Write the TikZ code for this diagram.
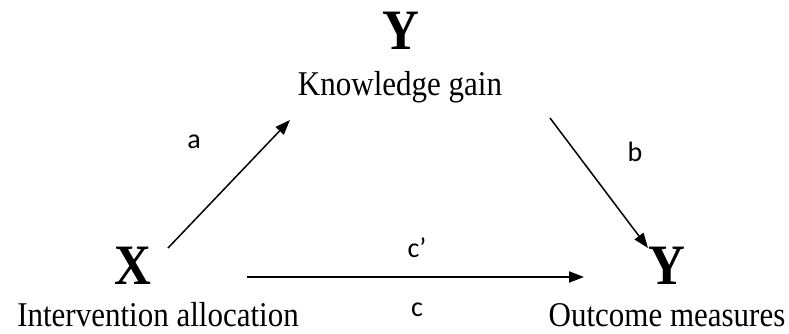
\documentclass[tikz,border=0pt]{standalone}
\usepackage{fontspec}
\usepackage{graphicx}
\setmainfont{Liberation Serif}
\newfontfamily\lblfont{Carlito}
\usetikzlibrary{arrows.meta}
\newcommand{\talltext}[1]{\scalebox{1}[1.12]{#1}}
\begin{document}
\begin{tikzpicture}[x=1pt,y=-1pt,
  var/.style={inner sep=0pt,font=\fontsize{51}{51}\selectfont\bfseries},
  txt/.style={inner sep=0pt,font=\fontsize{31}{31}\selectfont},
  lbl/.style={inner sep=0pt,font=\lblfont\fontsize{28}{28}\selectfont},
  arr/.style={draw,line width=1.5pt,-{Triangle[length=15pt,width=11pt]}}]
\useasboundingbox (0,0) rectangle (789,333);
\node[var] (Ytop) at (401,31) {\talltext{Y}};
\node[txt] (kg) at (400,87) {\talltext{Knowledge gain}};
\node[var] (X) at (133,266) {\talltext{X}};
\node[var] (Yout) at (667,266) {\talltext{Y}};
\node[txt] (ia) at (158,315) {\talltext{Intervention allocation}};
\node[txt] (om) at (667,315) {\talltext{Outcome measures}};
\node[lbl] (la) at (194,142) {a};
\node[lbl] (lb) at (635,152) {b};
\node[lbl] (lcp) at (417,248) {c’};
\node[lbl] (lc) at (417,310) {c};
\coordinate (aS) at (168,248);
\coordinate (aE) at (290,120);
\coordinate (bS) at (550,118);
\coordinate (bE) at (648,248);
\coordinate (cS) at (247,277);
\coordinate (cE) at (584,277);
\draw[arr] (aS) -- (aE);
\draw[arr] (bS) -- (bE);
\draw[arr,line width=2pt] (cS) -- (cE);
\end{tikzpicture}
\end{document}
